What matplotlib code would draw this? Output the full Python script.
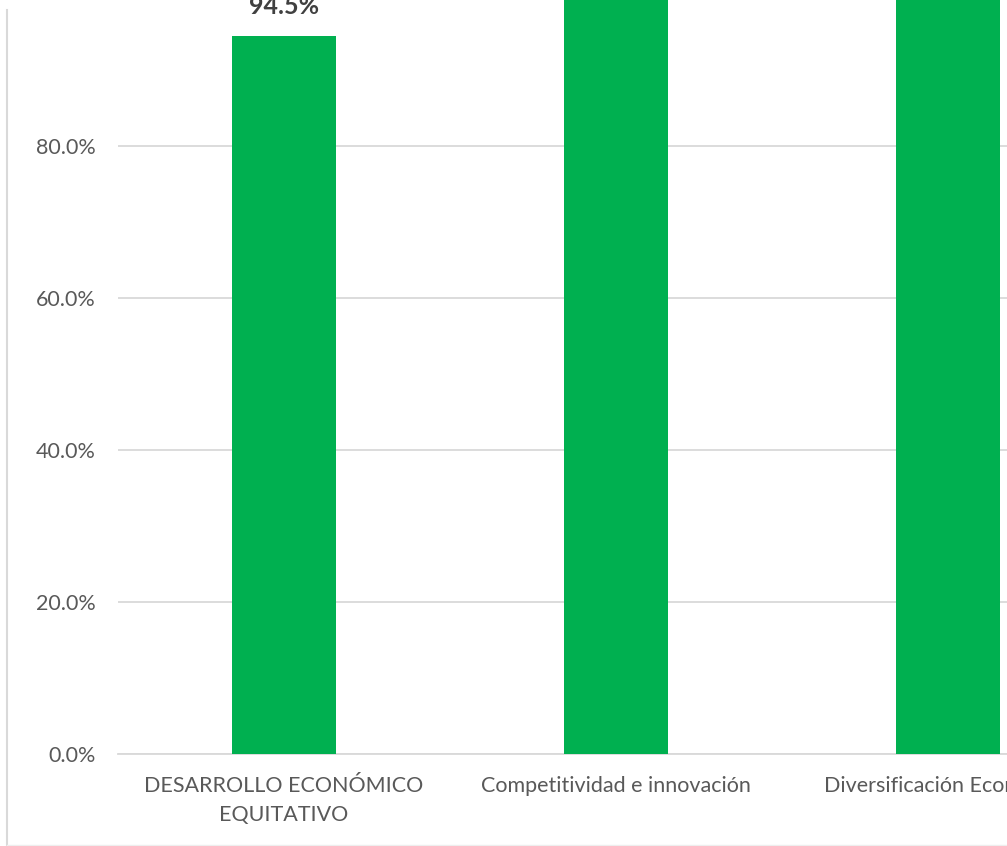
import matplotlib.pyplot as plt
from matplotlib.lines import Line2D
from matplotlib.ticker import PercentFormatter

# data
categories = ["DESARROLLO ECONÓMICO\nEQUITATIVO", "Competitividad e innovación",
              "Diversificación Económica"]
values = [0.945, 1.0, 1.0]
labels = ["94.5%", "100.0%", "100.0%"]

W, H = 1007, 846
fig = plt.figure(figsize=(W / 100, H / 100), dpi=100)
plt.rcParams['font.family'] = ['Lato', 'DejaVu Sans']

# axes goes past the top and right edge (chart is cropped)
x0, y0 = 118, 754          # pixel position of (-0.5, 0)
cat_px, pct20_px = 332, 152
ax = fig.add_axes([x0 / W, (H - y0) / H, 3 * cat_px / W, 6 * pct20_px / H])

x = range(len(categories))
bars = ax.bar(x, values, width=0.316, color="#00B050", zorder=3)
for b, lab in zip(bars, labels):
    ax.annotate(lab, (b.get_x() + b.get_width() / 2, b.get_height()),
                xytext=(0, 13), textcoords="offset points", ha="center", va="bottom",
                fontsize=18, fontweight="bold", color="#404040")

ax.set_xlim(-0.5, 2.5)
ax.set_ylim(0, 1.2)
ax.set_yticks([0, 0.2, 0.4, 0.6, 0.8])
ax.yaxis.set_major_formatter(PercentFormatter(1.0, decimals=1))
ax.set_xticks(list(x))
ax.set_xticklabels(categories, multialignment="center", linespacing=1.55)
ax.tick_params(axis="both", length=0, labelsize=15.5, labelcolor="#595959")
ax.tick_params(axis="x", pad=16)
ax.tick_params(axis="y", pad=16)
ax.grid(axis="y", color="#d9d9d9", linewidth=1.3, zorder=0)
for s in ["top", "right", "left"]:
    ax.spines[s].set_visible(False)
ax.spines["bottom"].set_color("#d9d9d9")
ax.spines["bottom"].set_linewidth(1.3)

# outer chart border (cropped)
fig.add_artist(Line2D([7 / W, 7 / W], [0, 1 - 10 / H], transform=fig.transFigure,
                      color="#d9d9d9", linewidth=1.5))
fig.add_artist(Line2D([7 / W, 1], [1 / H, 1 / H], transform=fig.transFigure,
                      color="#eeeeee", linewidth=1))

fig.savefig("out.png", dpi=100)
